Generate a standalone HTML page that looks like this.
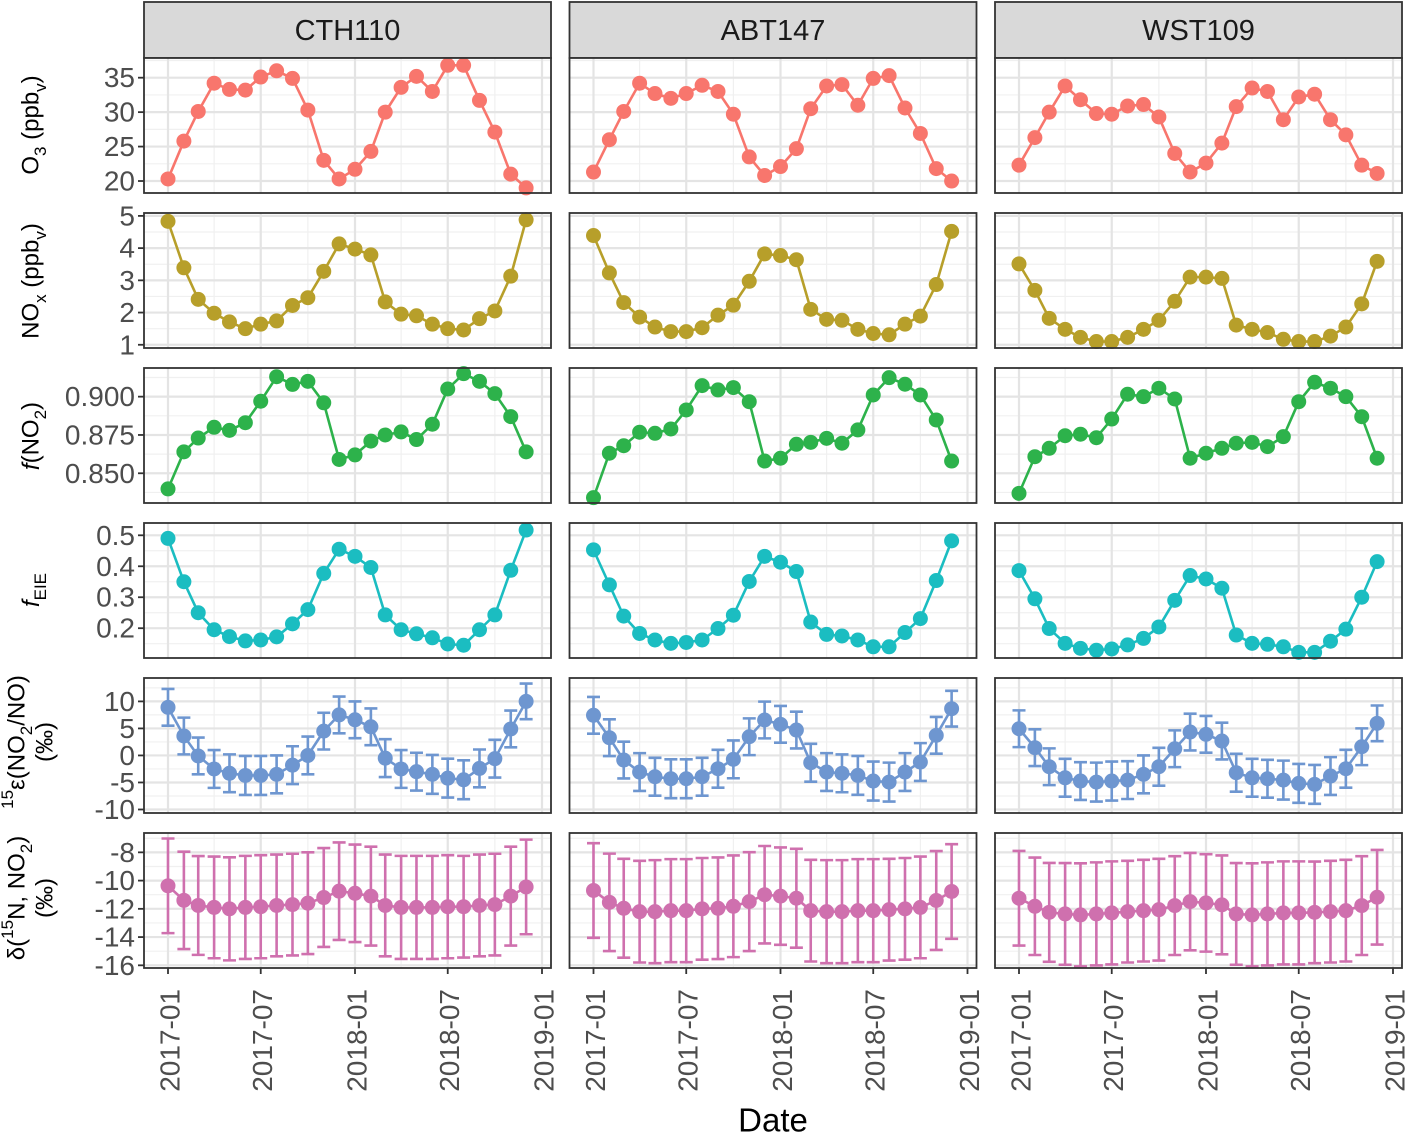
<!DOCTYPE html>
<html><head><meta charset="utf-8">
<style>
html,body{margin:0;padding:0;background:#fff;}
svg{display:block;font-family:"Liberation Sans",Arial,sans-serif;}
</style></head>
<body>
<svg id="chart" width="1406" height="1135" viewBox="0 0 1406 1135"></svg>
<script>
const dates = ["2017-01","2017-02","2017-03","2017-04","2017-05","2017-06","2017-07","2017-08","2017-09","2017-10","2017-11","2017-12","2018-01","2018-02","2018-03","2018-04","2018-05","2018-06","2018-07","2018-08","2018-09","2018-10","2018-11","2018-12"];
const sites = ["CTH110","ABT147","WST109"];
const xTickLabels = ["2017-01","2017-07","2018-01","2018-07","2019-01"];
const xMinorTicks = ["2017-04","2017-10","2018-04","2018-10"];

const o3_CTH110 = [20.3,25.8,30.1,34.2,33.3,33.2,35.1,36.0,34.9,30.3,23.0,20.3,21.7,24.3,30.0,33.6,35.2,33.0,36.8,36.8,31.7,27.1,21.0,19.0];
const o3_ABT147 = [21.3,26.0,30.1,34.2,32.7,32.0,32.7,33.9,33.0,29.7,23.5,20.8,22.1,24.7,30.5,33.8,34.0,31.0,34.9,35.3,30.6,26.9,21.8,20.0];
const o3_WST109 = [22.3,26.3,30.0,33.8,31.8,29.8,29.7,30.9,31.1,29.3,24.0,21.3,22.6,25.5,30.8,33.5,33.0,28.9,32.2,32.6,28.9,26.7,22.3,21.1];

const nox_CTH110 = [4.83,3.39,2.41,1.98,1.71,1.50,1.64,1.74,2.22,2.46,3.28,4.13,3.97,3.79,2.33,1.95,1.90,1.64,1.50,1.46,1.81,2.05,3.13,4.88];
const nox_ABT147 = [4.39,3.23,2.31,1.86,1.55,1.41,1.41,1.53,1.92,2.23,2.97,3.82,3.77,3.64,2.10,1.79,1.76,1.48,1.35,1.31,1.64,1.89,2.87,4.52];
const nox_WST109 = [3.51,2.69,1.82,1.48,1.23,1.10,1.10,1.23,1.48,1.76,2.35,3.10,3.10,3.06,1.61,1.48,1.38,1.17,1.10,1.10,1.27,1.55,2.27,3.59];

const fno2_CTH110 = [0.8398,0.864,0.873,0.880,0.878,0.883,0.897,0.913,0.908,0.910,0.896,0.859,0.862,0.871,0.875,0.877,0.872,0.882,0.905,0.915,0.910,0.902,0.887,0.864];
const fno2_ABT147 = [0.8341,0.8631,0.8680,0.8768,0.8761,0.8789,0.8913,0.9072,0.9044,0.9059,0.8967,0.8580,0.8598,0.8689,0.8702,0.8728,0.8696,0.8783,0.9011,0.9124,0.9081,0.9011,0.8848,0.8580];
const fno2_WST109 = [0.8369,0.8608,0.8663,0.8745,0.8755,0.8732,0.8854,0.9016,0.9000,0.9055,0.8985,0.8598,0.8631,0.8663,0.8696,0.8702,0.8674,0.8739,0.8967,0.9094,0.9055,0.9000,0.8869,0.8598];

const feie_CTH110 = [0.490,0.350,0.250,0.195,0.173,0.159,0.162,0.172,0.214,0.260,0.377,0.455,0.432,0.396,0.243,0.195,0.182,0.169,0.149,0.145,0.195,0.243,0.387,0.517];
const feie_ABT147 = [0.453,0.340,0.239,0.183,0.162,0.151,0.154,0.162,0.199,0.242,0.351,0.432,0.413,0.383,0.220,0.180,0.175,0.162,0.140,0.140,0.186,0.231,0.354,0.482];
const feie_WST109 = [0.386,0.295,0.199,0.151,0.135,0.129,0.133,0.146,0.167,0.204,0.290,0.370,0.359,0.329,0.178,0.151,0.148,0.140,0.122,0.122,0.158,0.197,0.300,0.415];

const eps_CTH110 = [8.9,3.6,-0.1,-2.5,-3.3,-3.7,-3.7,-3.5,-1.8,0.0,4.5,7.5,6.6,5.3,-0.5,-2.5,-3.0,-3.5,-4.2,-4.5,-2.4,-0.6,4.9,10.0];
const eps_ABT147 = [7.43,3.28,-0.85,-3.07,-3.94,-4.31,-4.31,-3.94,-2.46,-0.72,3.46,6.56,5.76,4.70,-1.35,-3.07,-3.31,-3.69,-4.74,-4.93,-3.07,-1.22,3.72,8.65];
const eps_WST109 = [4.94,1.43,-2.09,-4.13,-4.74,-4.93,-4.74,-4.56,-3.5,-2.09,1.24,4.33,3.91,2.67,-3.2,-4.13,-4.31,-4.56,-5.17,-5.35,-3.81,-2.46,1.61,5.94];
const epsErr = [3.4,3.4,3.4,3.5,3.5,3.6,3.6,3.5,3.5,3.5,3.4,3.4,3.4,3.4,3.5,3.5,3.5,3.6,3.6,3.6,3.5,3.5,3.4,3.3];

const d15_CTH110 = [-10.37,-11.4,-11.76,-11.9,-12.0,-11.9,-11.85,-11.76,-11.7,-11.6,-11.2,-10.75,-10.9,-11.1,-11.76,-11.9,-11.9,-11.9,-11.85,-11.85,-11.76,-11.7,-11.1,-10.45];
const d15_ABT147 = [-10.7,-11.54,-11.96,-12.2,-12.2,-12.13,-12.13,-12.0,-11.96,-11.82,-11.49,-11.0,-11.1,-11.25,-12.13,-12.2,-12.2,-12.13,-12.13,-12.06,-12.0,-11.9,-11.41,-10.77];
const d15_WST109 = [-11.25,-11.82,-12.25,-12.36,-12.43,-12.36,-12.29,-12.2,-12.13,-12.06,-11.77,-11.49,-11.58,-11.72,-12.36,-12.43,-12.36,-12.29,-12.29,-12.25,-12.2,-12.13,-11.77,-11.18];
const d15Err = [3.35,3.45,3.5,3.6,3.65,3.65,3.65,3.6,3.6,3.6,3.5,3.45,3.45,3.5,3.6,3.65,3.65,3.65,3.65,3.6,3.6,3.6,3.5,3.35];

const rows = [
  {key:"o3", color:"#F8766D", domain:[18.26,37.86], ticks:[20,25,30,35], minor:[22.5,27.5,32.5,37.5], fmt:v=>String(v), data:[o3_CTH110,o3_ABT147,o3_WST109]},
  {key:"nox", color:"#B79F2A", domain:[0.90,5.09], ticks:[1,2,3,4,5], minor:[1.5,2.5,3.5,4.5], fmt:v=>String(v), data:[nox_CTH110,nox_ABT147,nox_WST109]},
  {key:"fno2", color:"#2DB24B", domain:[0.8306,0.9187], ticks:[0.85,0.875,0.9], minor:[0.8375,0.8625,0.8875,0.9125], fmt:v=>v.toFixed(3), data:[fno2_CTH110,fno2_ABT147,fno2_WST109]},
  {key:"feie", color:"#1BBDC1", domain:[0.1038,0.5397], ticks:[0.2,0.3,0.4,0.5], minor:[0.15,0.25,0.35,0.45], fmt:v=>v.toFixed(1), data:[feie_CTH110,feie_ABT147,feie_WST109]},
  {key:"eps", color:"#6E96D0", domain:[-10.65,14.33], ticks:[-10,-5,0,5,10], minor:[-7.5,-2.5,2.5,7.5,12.5], fmt:v=>String(v), data:[eps_CTH110,eps_ABT147,eps_WST109], err:epsErr},
  {key:"d15", color:"#CF70AE", domain:[-16.19,-6.63], ticks:[-16,-14,-12,-10,-8], minor:[-15,-13,-11,-9,-7], fmt:v=>String(v), data:[d15_CTH110,d15_ABT147,d15_WST109], err:d15Err}
];

const NS = "http://www.w3.org/2000/svg";
const svg = document.getElementById("chart");
function mk(tag, attrs, parent){
  const e = document.createElementNS(NS, tag);
  for (const k in attrs) e.setAttribute(k, attrs[k]);
  (parent||svg).appendChild(e);
  return e;
}
const colLeft = [144, 569.5, 995];
const PW = 407, PH = 135, STRIP_TOP = 2, STRIP_H = 56;
function rowTop(r){ return 58 + 155*r; }
function dayOf(s){ const p = s.split('-').map(Number); return (Date.UTC(p[0],p[1]-1,1)-Date.UTC(2017,0,1))/86400000; }
function xScale(c, s){ return colLeft[c] + 24 + dayOf(s)/730*374; }
function yScale(r, v){ const d = rows[r].domain; return rowTop(r) + PH - (v - d[0])/(d[1]-d[0])*PH; }

sites.forEach((s,c)=>{
  const g = mk("g",{});
  
  
  mk("rect",{x:colLeft[c],y:STRIP_TOP,width:PW,height:STRIP_H,fill:"#d9d9d9",stroke:"#333","stroke-width":1.8},g);
  const t = mk("text",{x:colLeft[c]+PW/2,y:STRIP_TOP+STRIP_H/2+1,"text-anchor":"middle","dominant-baseline":"central","font-size":29,fill:"#1a1a1a"},g);
  t.textContent = s;
});

rows.forEach((row,r)=>{
  sites.forEach((s,c)=>{
    const L = colLeft[c], T = rowTop(r);
    const g = mk("g",{});
    
    
    mk("rect",{x:L,y:T,width:PW,height:PH,fill:"#fff"},g);
    const clipId = "clip"+r+"_"+c;
    const cp = mk("clipPath",{id:clipId},g);
    mk("rect",{x:L,y:T,width:PW,height:PH},cp);
    const gg = mk("g",{"clip-path":"url(#"+clipId+")"},g);
    
    
    row.minor.forEach(v=>{ const y=yScale(r,v); mk("line",{x1:L,x2:L+PW,y1:y,y2:y,stroke:"#f0f0f0","stroke-width":1.2},gg); });
    xMinorTicks.forEach(d=>{ const x=xScale(c,d); mk("line",{x1:x,x2:x,y1:T,y2:T+PH,stroke:"#f0f0f0","stroke-width":1.2},gg); });
    row.ticks.forEach(v=>{ const y=yScale(r,v); mk("line",{x1:L,x2:L+PW,y1:y,y2:y,stroke:"#e4e4e4","stroke-width":2.2},gg); });
    xTickLabels.forEach(d=>{ const x=xScale(c,d); mk("line",{x1:x,x2:x,y1:T,y2:T+PH,stroke:"#e4e4e4","stroke-width":2.2},gg); });

    const vals = row.data[c];
    if (row.err){
      vals.forEach((v,i)=>{
        const x = xScale(c,dates[i]);
        const y1 = yScale(r, v+row.err[i]), y2 = yScale(r, v-row.err[i]);
        const eb = mk("path",{d:`M${x},${y1}V${y2}M${x-6.5},${y1}H${x+6.5}M${x-6.5},${y2}H${x+6.5}`,stroke:row.color,"stroke-width":2.6,fill:"none"},g);
        
        
      });
    }
    const pts = vals.map((v,i)=>xScale(c,dates[i]).toFixed(2)+","+yScale(r,v).toFixed(2)).join(" ");
    const pl = mk("polyline",{points:pts,fill:"none",stroke:row.color,"stroke-width":2.6},g);
    
    
    vals.forEach((v,i)=>{
      const pt = mk("circle",{cx:xScale(c,dates[i]),cy:yScale(r,v),r:7.5,fill:row.color},g);
      
      
    });
    mk("rect",{x:L,y:T,width:PW,height:PH,fill:"none",stroke:"#333","stroke-width":1.8},g);

    if (c===0){
      const ax = mk("g",{});
      
      
      row.ticks.forEach(v=>{
        const y=yScale(r,v);
        mk("line",{x1:L-6,x2:L,y1:y,y2:y,stroke:"#333","stroke-width":1.8},ax);
        const t = mk("text",{x:L-9,y:y,"text-anchor":"end","dominant-baseline":"central","font-size":28,fill:"#4d4d4d"},ax);
        t.textContent = row.fmt(v);
      });
    }
    if (r===rows.length-1){
      const ax = mk("g",{});
      
      
      xTickLabels.forEach(d=>{
        const x=xScale(c,d), yb=T+PH;
        mk("line",{x1:x,x2:x,y1:yb,y2:yb+6,stroke:"#333","stroke-width":1.8},ax);
        const t = mk("text",{x:x+2,y:yb+21,"text-anchor":"end","dominant-baseline":"central","font-size":28,fill:"#4d4d4d",transform:`rotate(-90 ${x+2} ${yb+21})`},ax);
        t.textContent = d;
      });
    }
  });
});

function ytitle(name, x, y, html){
  const t = mk("text",{x:x,y:y,"text-anchor":"middle","dominant-baseline":"central","font-size":24,fill:"#000",transform:`rotate(-90 ${x} ${y})`});
  
  
  t.innerHTML = html;
}
const SUB = '<tspan baseline-shift="sub" font-size="17">';
const SUP = '<tspan baseline-shift="super" font-size="17">';
ytitle('y-title-o3', 31, 125, 'O'+SUB+'3</tspan> (ppb'+SUB+'v</tspan>)');
ytitle('y-title-nox', 31, 281, 'NO'+SUB+'x</tspan> (ppb'+SUB+'v</tspan>)');
ytitle('y-title-fno2', 31, 436, '<tspan font-style="italic">f</tspan>(NO'+SUB+'2</tspan>)');
ytitle('y-title-feie', 31, 590, '<tspan font-style="italic">f</tspan>'+SUB+'EIE</tspan>');
ytitle('y-title-eps', 17, 742, SUP+'15</tspan>ε(NO'+SUB+'2</tspan>/NO)');
ytitle('y-title-eps-unit', 45, 742, '(‰)');
ytitle('y-title-d15', 17, 898, 'δ('+SUP+'15</tspan>N, NO'+SUB+'2</tspan>)');
ytitle('y-title-d15-unit', 45, 898, '(‰)');

const xt = mk("text",{x:773,y:1120,"text-anchor":"middle","dominant-baseline":"central","font-size":33,fill:"#000"});


xt.textContent = "Date";
</script>
</body></html>
